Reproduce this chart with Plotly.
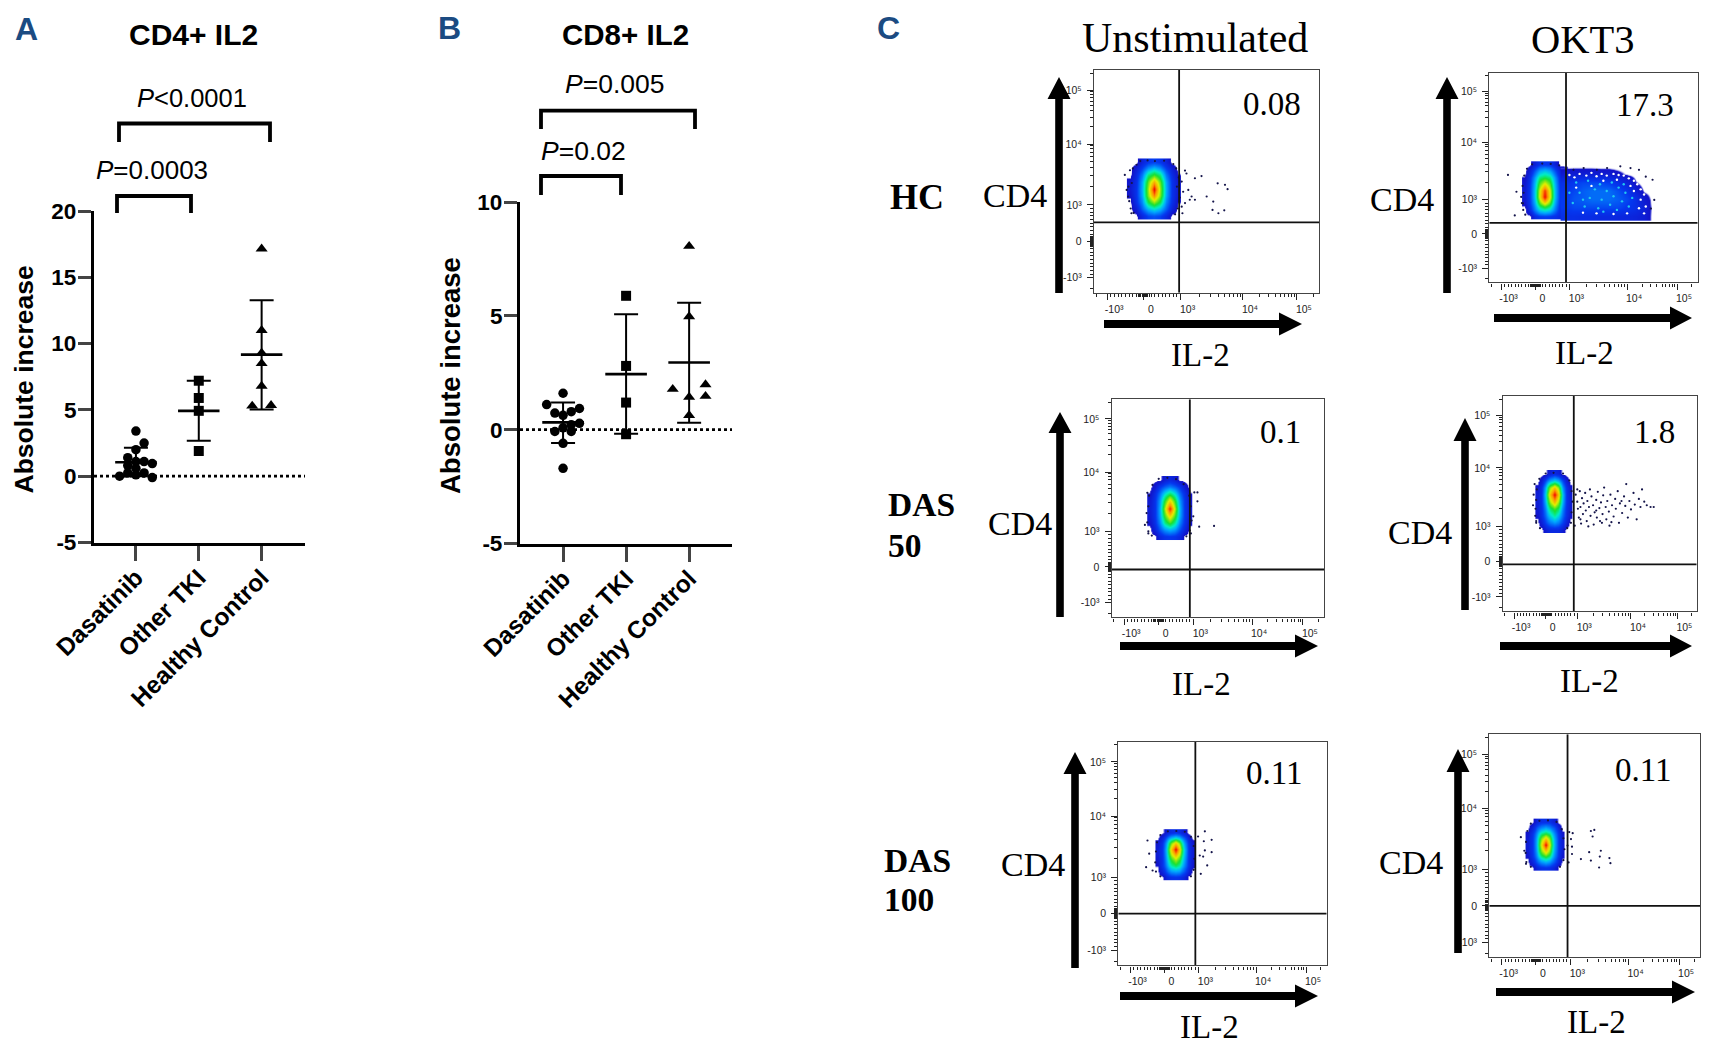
import plotly.graph_objects as go

W, H = 1715, 1048
CATEGORIES = ["Dasatinib", "Other TKI", "Healthy Control"]

# ---- Panel A: CD4+ IL2 (category index + jitter, value)
A_DAS_X = [0, 0.13, 0, -0.13, 0, 0.13, 0.26, -0.13, 0, -0.26, -0.13, 0, 0.13, 0.26]
A_DAS_Y = [3.4, 2.5, 2.0, 1.4, 1.1, 1.1, 0.95, 0.8, 0.6, 0, 0.25, 0.1, 0.25, -0.1]
A_TKI_X = [1, 1, 1, 1]
A_TKI_Y = [7.2, 5.9, 4.93, 1.9]
A_HC_X = [2, 2, 2, 2, 2, 1.85, 2.15]
A_HC_Y = [17.15, 11, 9.3, 8.5, 6.8, 5.3, 5.35]
A_MEAN = [1.05, 4.93, 9.17]
A_UP = [2.15, 7.2, 13.26]
A_LOW = [0.0, 2.67, 5.03]
A_TICKS = [-5, 0, 5, 10, 15, 20]

# ---- Panel B: CD8+ IL2
B_DAS_X = [0, -0.26, 0.26, 0.13, -0.13, 0, 0.26, 0.13, -0.13, 0, 0.13, 0, 0]
B_DAS_Y = [1.6, 1.1, 0.93, 0.79, 0.73, 0.63, 0.28, 0.22, -0.08, 0.08, -0.08, -0.6, -1.7]
B_TKI_X = [1, 1, 1, 1]
B_TKI_Y = [5.88, 2.8, 1.19, -0.2]
B_HC_X = [2, 2, 1.74, 2.26, 2.26, 2, 2]
B_HC_Y = [8.06, 4.97, 1.78, 1.98, 1.47, 1.43, 0.63]
B_MEAN = [0.32, 2.44, 2.95]
B_UP = [1.19, 5.07, 5.58]
B_LOW = [-0.59, -0.18, 0.3]
B_TICKS = [-5, 0, 5, 10]

# ---- Panel C: flow plots.  Axis unit: biexponential position, 0 -> 0, 1 -> 10^3
FLOW_XTICKS = [-1, 0, 1, 2.7, 4.17]
FLOW_YTICKS = [-1, 0, 1, 2.66, 4.15]
FLOW_TICKTEXT = ["-10³", "0", "10³", "10⁴", "10⁵"]
FLOW_MINOR = [-1.3, -0.9, -0.8, -0.7, -0.6, -0.5, -0.4, -0.3, -0.2, -0.14, -0.11, -0.08, -0.05, -0.02, 0.02, 0.05, 0.08, 0.11, 0.14,
              0.2, 0.3, 0.4, 0.5, 0.6, 0.7, 0.8, 0.9, 1.51, 1.81, 2.02, 2.19, 2.32, 2.44, 2.54, 2.62,
              3.14, 3.40, 3.58, 3.73, 3.84, 3.94, 4.03, 4.10, 4.61]

PCT = ["0.08", "17.3", "0.1", "1.8", "0.11", "0.11"]
GATE_X = [0.96, 0.90, 0.90, 0.89, 0.91, 0.92]
GATE_Y = [0.52, 0.32, -0.07, -0.08, 0.0, 0.0]

HM1 = [[0, 0, .9, 1.6, 1.8, 1.6, .9, 0, 0],
       [0, .6, 2, 3.2, 3.8, 3.2, 2, .8, 0],
       [0, 1.2, 2.6, 5, 6.2, 5, 2.6, 1.2, .2],
       [.3, 1.3, 3, 6, 8.5, 6, 3, 1.3, .4],
       [.5, 1.3, 3.1, 6.2, 10, 6.2, 3.1, 1.3, .5],
       [.4, 1.2, 3, 5.8, 8, 5.8, 3, 1.3, .4],
       [0, 1, 2.4, 4.6, 5.5, 4.6, 2.4, 1.1, .2],
       [0, .6, 1.6, 2.8, 3.4, 2.8, 1.6, .7, 0],
       [0, 0, .8, 1.4, 1.6, 1.4, .8, 0, 0]]
HM2 = [[0, 0, 1, 1.4, 1.5, 1.4, 1.2, .9, .8],
       [0, 1, 2.4, 3.6, 4, 3.6, 2.4, 1.2, 1],
       [.3, 1.4, 3, 5.6, 7, 5.6, 3, 1.4, 1.2],
       [.5, 1.5, 3.4, 7, 10, 7, 3.4, 1.5, 1.3],
       [.5, 1.5, 3.4, 6.8, 9.4, 6.8, 3.4, 1.5, 1.3],
       [.4, 1.4, 3.2, 5.8, 7, 5.8, 3.2, 1.4, 1.2],
       [.2, 1.2, 2.8, 4.6, 5, 4.6, 2.8, 1.2, 1.1],
       [0, .7, 1.9, 3, 3.4, 3, 1.9, .8, .5],
       [0, 0, .7, 1.3, 1.4, 1.3, .7, 0, 0]]
HM2_TAIL = [[1.2, 1.2, 1.1, 1.1, 1.0, 1.0, .9, .9, .8, .6, 0],
            [1.5, 1.7, 1.7, 1.7, 1.7, 1.7, 1.7, 1.4, 1.2, .7, 0],
            [1.5, 1.9, 2.0, 2.2, 2.2, 2.2, 2.0, 1.7, 1.2, .5, 0],
            [1.4, 1.7, 2.0, 2.2, 2.2, 2.2, 1.8, 1.4, .7, .1, 0],
            [1.2, 1.5, 1.7, 1.7, 1.7, 1.5, 1.2, .8, .2, 0, 0],
            [.5, .6, .6, .6, .5, .5, .3, .1, 0, 0, 0],
            [0, 0, 0, 0, 0, 0, 0, 0, 0, 0, 0]]
HM3 = [[0, 0, .9, 1.3, 1.4, 1.3, .9, 0, 0],
       [0, .8, 1.9, 2.8, 3.2, 2.8, 1.8, .8, 0],
       [.3, 1.2, 2.6, 4.6, 5.6, 4.4, 2.5, 1.2, .3],
       [.5, 1.3, 3, 5.6, 7.4, 5.6, 3, 1.3, .5],
       [.6, 1.3, 3.1, 6.4, 9.8, 6.4, 3.1, 1.3, .6],
       [.5, 1.3, 2.9, 5.4, 7.4, 5.4, 2.8, 1.3, .5],
       [.2, 1.1, 2.3, 3.8, 4.8, 3.8, 2.2, 1.1, .2],
       [0, .5, 1.4, 2, 2.4, 2, 1.4, .5, 0],
       [0, 0, 0, .6, .9, .6, 0, 0, 0]]
HM4 = [[0, 0, .6, 1, 1, 1, .6, 0, 0],
       [0, .7, 1.6, 2.4, 2.8, 2.4, 1.6, .7, 0],
       [.3, 1.1, 2.2, 3.6, 4.4, 3.6, 2.2, 1.1, .3],
       [.5, 1.2, 2.6, 4.8, 5.6, 4.8, 2.6, 1.2, .5],
       [.6, 1.3, 3.2, 6.4, 8, 6.2, 3.2, 1.3, .6],
       [.6, 1.3, 3.6, 7.6, 10, 7.4, 3.4, 1.3, .5],
       [.3, 1.2, 3.1, 6.2, 7.6, 6, 2.8, 1.2, .3],
       [0, .5, 1.7, 3, 3.6, 3, 1.7, .5, 0],
       [0, 0, 0, .7, 1, .7, 0, 0, 0]]
HM5 = [[0, 0, .8, 1.2, 1.3, 1.2, .8, 0, 0],
       [0, .8, 1.9, 2.8, 3, 2.8, 1.9, .8, 0],
       [.2, 1.2, 2.6, 4.2, 4.8, 4.2, 2.6, 1.2, .3],
       [.4, 1.2, 3, 5.2, 6.2, 5.2, 3, 1.2, .4],
       [.6, 1.3, 3.3, 6.4, 8, 6.4, 3.3, 1.3, .5],
       [.6, 1.3, 3.5, 7.4, 10, 7.4, 3.5, 1.3, .5],
       [.4, 1.2, 3.1, 6, 7.6, 6, 3, 1.2, .4],
       [0, .7, 2, 3.2, 3.8, 3.2, 2, .7, 0],
       [0, 0, .6, 1.1, 1.2, 1.1, .6, 0, 0]]
HM6 = [[0, 0, .8, 1.2, 1.3, 1.2, .8, 0, 0],
       [0, .8, 1.9, 2.8, 3.2, 2.8, 1.9, .8, 0],
       [.3, 1.2, 2.6, 4.6, 5.4, 4.6, 2.6, 1.2, .3],
       [.5, 1.3, 3, 6, 7.6, 6, 3, 1.3, .5],
       [.6, 1.3, 3.2, 6.8, 10, 6.8, 3.2, 1.3, .6],
       [.5, 1.3, 3.1, 6, 7.6, 6, 3.1, 1.3, .5],
       [.3, 1.2, 2.6, 4.4, 5, 4.4, 2.6, 1.2, .3],
       [0, .7, 1.9, 2.6, 3, 2.6, 1.9, .7, 0],
       [0, 0, .7, 1.2, 1.2, 1.2, .7, 0, 0]]

# (x0, dx, y0, dy) of each density grid, in biex units
GRID1 = (-.38, .165, .70, .185)
GRID2 = (-.32, .149, .51, .189)
GRID2_TAIL = (.87, .26, .51, .25)
GRID3 = (-.26, .144, .85, .20)
GRID4 = (-.26, .131, .90, .20)
GRID5 = (-.20, .13, 1.0, .154)
GRID6 = (-.24, .1275, 1.05, .1575)

DOTS1 = [(1.12, 1.94), (1.16, 1.86), (1.03, 1.64), (1.07, 1.36), (1.21, 1.41), (1.3, 1.23), (1.39, 1.14), (1.25, 1.14),
         (1.12, 1.05), (1.39, 1.73), (1.57, 1.79), (2.01, 1.59), (2.21, 1.55), (2.28, 1.43), (1.89, 1.09), (1.71, 1.23),
         (1.87, .86), (2.03, .77), (2.19, .85), (1.03, .95), (1.05, .77), (-.47, 1.41), (-.43, 1.23), (-.52, 1.82),
         (-.34, .77), (-.38, 1.95), (-.36, .9), (-.4, 1.1), (-.33, 1.6), (-.42, 1.5), (-.3, 2.0), (-.2, 2.1), (-.28, .78),
         (.92, .9), (.98, 1.2), (.9, 1.5), (.95, 1.75), (.88, 2.0), (.8, 2.12), (.85, .74), (-.1, 2.2), (.1, 2.22), (.3, 2.2), (.55, 2.21)]
DOTS2 = [(-.81, 1.72), (-.61, .54), (-.56, 1.23), (-.37, .89), (-.42, 1.08), (1.12, 1.87), (1.42, 1.92), (1.81, 1.87),
         (2.11, 1.92), (2.5, 1.97), (3.05, 1.87), (3.25, 1.67), (3.45, 1.58), (3.5, .99), (3.4, .74), (2.8, 1.92),
         (-.36, .7), (-.4, .9), (-.38, 1.4), (-.33, 1.7), (-.25, 1.9), (-.1, 2.03), (.2, 2.05), (.45, 2.04), (.7, 2.0), (-.3, .56), (-.35, 1.2)]
DOTS3 = [(1.12, 2.09), (1.03, 2.09), (1.12, 1.84), (1.17, 1.13), (1.6, 1.15), (1.0, 1.42), (.93, .94), (-.35, 1.51),
         (-.4, 1.18), (-.3, .94), (-.33, 2.08), (-.3, 1.0), (-.33, 1.25), (-.3, 1.7), (-.28, 2.0), (-.18, 2.3), (0, 2.47),
         (.25, 2.5), (.5, 2.46), (.72, 2.32), (.88, 2.0), (.93, 1.7), (.95, 1.3), (.9, 1.02), (.8, .86), (-.2, .88)]
DOTS4 = [(.95, 1.9), (1.0, 1.7), (1.02, 1.5), (1.05, 1.25), (1.08, 2.0), (1.1, 1.55), (1.12, 1.08), (1.15, 1.8),
         (1.18, 1.35), (1.2, 1.65), (1.25, 1.95), (1.27, 1.45), (1.3, 1.15), (1.32, 1.72), (1.37, 1.55), (1.4, 2.05),
         (1.42, 1.3), (1.45, 1.85), (1.5, 1.6), (1.52, 1.05), (1.55, 1.4), (1.6, 1.75), (1.62, 1.25), (1.65, 1.98),
         (1.7, 1.52), (1.72, 1.15), (1.75, 1.68), (1.8, 1.35), (1.82, 1.88), (1.85, 2.1), (1.9, 1.55), (1.92, 1.2),
         (1.95, 1.72), (2, 1.42), (2.02, 1.02), (2.05, 1.9), (2.1, 1.6), (2.15, 1.28), (2.2, 1.78), (2.22, 1.5),
         (2.28, 2.0), (2.32, 1.1), (2.35, 1.65), (2.42, 1.38), (2.48, 1.85), (2.52, 1.58), (2.55, 2.2), (2.6, 1.25),
         (2.65, 1.72), (2.7, 1.48), (2.78, 1.95), (2.82, 1.62), (2.88, 1.2), (2.95, 1.78), (3, 1.55), (3.05, 2.05),
         (3.12, 1.7), (3.2, 1.6), (3.32, 1.55), (3.42, 1.55), (.92, 1.02), (1.0, 2.05), (1.1, 1.2), (1.35, 1.0),
         (1.6, 1.45), (1.78, 1.1), (2.08, 1.12), (2.4, 1.72), (-.4, 1.6), (-.38, 1.9), (-.35, 2.2), (-.33, 1.3), (-.3, 1.1),
         (-.3, 1.15), (-.32, 1.5), (-.3, 1.75), (-.28, 2.05), (-.2, 2.35), (0, 2.5), (.25, 2.52), (.55, 2.5), (.75, 2.3),
         (.82, 2.0), (.85, 1.7), (.82, 1.4), (.8, 1.1), (.68, .95), (-.18, .95)]
DOTS5 = [(1.19, 2.25), (.99, 2.11), (1.39, 2.02), (1.16, 1.98), (1.39, 1.68), (1.19, 1.73), (1.04, 1.59), (1.14, 1.56),
         (1.26, 1.32), (1.07, 1.09), (-.5, 2), (-.54, 1.27), (-.45, 1.64), (-.35, 1.18), (-.25, 1.15), (-.27, 1.4), (-.25, 1.7),
         (-.22, 1.95), (-.12, 2.15), (.1, 2.25), (.35, 2.26), (.6, 2.24), (.78, 2.1), (.86, 1.85), (.88, 1.5), (.86, 1.2),
         (.78, 1.02), (-.12, 1.02)]
DOTS6 = [(1.7, 2.08), (1.6, 2.05), (1.65, 1.9), (.97, 2.02), (1.07, 1.99), (1.02, 1.83), (.92, 1.65), (1.05, 1.62),
         (1.05, 1.42), (.95, 1.19), (1.31, 1.28), (1.55, 1.47), (1.89, 1.51), (1.86, 1.35), (2.14, 1.31), (2.17, 1.17),
         (1.84, 1.05), (1.6, 1.24), (-.44, 1.88), (-.34, 1.51), (-.29, 1.15), (-.28, 1.2), (-.3, 1.45), (-.29, 1.75), (-.25, 2.05),
         (-.15, 2.25), (.1, 2.33), (.35, 2.34), (.6, 2.3), (.75, 2.1), (.8, 1.85), (.83, 1.55), (.8, 1.25), (.7, 1.07), (-.15, 1.07)]
# flecks inside the OKT3 tail of the HC plot
TAIL_CYAN = [(1.1, .9), (1.3, 1.2), (1.45, .8), (1.6, 1.05), (1.75, 1.3), (1.85, .75), (1.95, 1.0), (2.1, 1.25), (2.2, .85),
             (2.3, 1.1), (2.45, 1.35), (2.55, .95), (2.65, 1.2), (2.75, .8), (2.85, 1.05), (1.2, 1.5), (1.55, 1.55), (1.9, 1.45),
             (2.25, 1.5), (2.6, 1.45), (1.0, 1.2), (1.4, 1.0), (2.0, .65), (2.4, .7)]
TAIL_WHITE = [(1.0, 1.72), (1.15, 1.65), (1.3, 1.75), (1.5, 1.7), (1.65, 1.78), (1.8, 1.68), (1.95, 1.75), (2.1, 1.7),
              (2.3, 1.75), (2.45, 1.72), (2.6, 1.7), (2.75, 1.62), (2.9, 1.55), (3.0, 1.45), (3.1, 1.3), (3.2, 1.15), (3.1, 1.0),
              (3.25, .8), (3.2, .6), (1.4, .62), (1.8, .6), (2.3, .58), (2.7, .6), (1.2, 1.35), (1.65, 1.4), (2.0, 1.55), (2.4, 1.58),
              (2.8, 1.4), (2.9, 1.25), (3.05, .75)]

# ---------------- layout geometry (pixels in the 1715x1048 page) ----------------
SANS = "Liberation Sans"
SERIF = "Liberation Serif"
BLUE = "#1B4B82"
RAINBOW = [[0, "rgba(255,255,255,0)"], [.012, "rgba(255,255,255,0)"], [.02, "#1212c8"], [.15, "#0438f0"],
           [.30, "#00a8ff"], [.40, "#00eec8"], [.52, "#18e030"], [.68, "#e4f000"], [.84, "#ff9400"], [1, "#f00000"]]


def fx(p):
    return p / W


def fy(p):
    return 1 - p / H


fig = go.Figure()
annotations = []
shapes = []


def text(x, y, s, size, family=SANS, color="black", anchor="center", angle=0):
    annotations.append(dict(x=fx(x), y=fy(y), xref="paper", yref="paper", text=s, showarrow=False, textangle=angle,
                            xanchor=anchor, yanchor="middle", font=dict(family=family, size=size, color=color)))


def swarm(n, series, mean, up, low):
    symbols = ["circle", "square", "triangle-up"]
    sizes = [9.5, 10, 10.5]
    ax = dict(xaxis=f"x{n}" if n > 1 else "x", yaxis=f"y{n}" if n > 1 else "y")
    for (xs, ys), sym, sz in zip(series, symbols, sizes):
        fig.add_trace(go.Scatter(x=xs, y=ys, mode="markers", showlegend=False, cliponaxis=False,
                                 marker=dict(symbol=sym, size=sz, color="black"), **ax))
    fig.add_trace(go.Scatter(
        x=[0, 1, 2], y=mean, mode="markers", showlegend=False, cliponaxis=False, marker=dict(size=1, color="black"),
        error_x=dict(type="constant", value=0.33, thickness=2.6, width=0, color="black"),
        error_y=dict(type="data", symmetric=False, array=[u - m for u, m in zip(up, mean)],
                     arrayminus=[m - l for m, l in zip(mean, low)], thickness=2, width=12, color="black"), **ax))


def bracket(x0, x1, top, bottom):
    shapes.append(dict(type="path", xref="paper", yref="paper", line=dict(color="black", width=3.8),
                       path=f"M {fx(x0)} {fy(bottom)} L {fx(x0)} {fy(top)} L {fx(x1)} {fy(top)} L {fx(x1)} {fy(bottom)}"))


swarm(1, [(A_DAS_X, A_DAS_Y), (A_TKI_X, A_TKI_Y), (A_HC_X, A_HC_Y)], A_MEAN, A_UP, A_LOW)
swarm(2, [(B_DAS_X, B_DAS_Y), (B_TKI_X, B_TKI_Y), (B_HC_X, B_HC_Y)], B_MEAN, B_UP, B_LOW)
fig.add_trace(go.Scatter(x=[-0.667, 2.69], y=[0, 0], mode="lines", showlegend=False,
                         line=dict(color="black", width=2.7, dash="dot"), xaxis="x", yaxis="y"))
fig.add_trace(go.Scatter(x=[-0.683, 2.68], y=[0, 0], mode="lines", showlegend=False, cliponaxis=False,
                         line=dict(color="black", width=2.7, dash="dot"), xaxis="x2", yaxis="y2"))
bracket(117, 191, 196, 213)
bracket(119, 270, 123.5, 142)
bracket(541, 621, 176, 195)
bracket(541, 695, 110.6, 129)

layout = dict(
    width=W, height=H, margin=dict(l=0, r=0, t=0, b=0, autoexpand=False), paper_bgcolor="white", plot_bgcolor="white",
    showlegend=False,
)


def swarm_axes(n, px0, px1, py0, py1, xr, yr, ticks):
    sx = "xaxis" if n == 1 else f"xaxis{n}"
    sy = "yaxis" if n == 1 else f"yaxis{n}"
    layout[sx] = dict(domain=[fx(px0), fx(px1)], range=xr, tickvals=[0, 1, 2], ticktext=CATEGORIES, tickangle=-45,
                      ticks="outside", ticklen=15, tickwidth=3, showline=True, linewidth=3.2, linecolor="black",
                      showgrid=False, zeroline=False, anchor=f"y{n}" if n > 1 else "y", automargin=False,
                      ticklabelstandoff=-7,
                      tickfont=dict(family=SANS, size=24.5, color="black", weight="bold"))
    layout[sy] = dict(domain=[fy(py1), fy(py0)], range=yr, tickvals=ticks, ticktext=[str(t) for t in ticks],
                      ticks="outside", ticklen=13, tickwidth=3,
                      showline=True, linewidth=3.2, linecolor="black", showgrid=False, zeroline=False,
                      anchor=f"x{n}" if n > 1 else "x", automargin=False, ticklabelstandoff=-3,
                      tickfont=dict(family=SANS, size=22.5, color="black", weight="bold"))


swarm_axes(1, 94, 305, 211, 542.5, [-0.667, 2.69], [-5, 20], A_TICKS)
swarm_axes(2, 520, 732, 202, 543.5, [-0.683, 2.68], [-5, 10], B_TICKS)

text(23, 379.5, "<b>Absolute increase</b>", 26.5, angle=-90)
text(450, 375, "<b>Absolute increase</b>", 27.5, angle=-90)
text(193, 35, "<b>CD4+ IL2</b>", 30)
text(625, 34, "<b>CD8+ IL2</b>", 29.5)
text(152, 170, "<i>P</i>=0.0003", 26)
text(192, 98, "<i>P</i>&lt;0.0001", 25.5)
text(583, 151, "<i>P</i>=0.02", 26.5)
text(614, 84, "<i>P</i>=0.005", 26.5)
text(27, 29, "<b>A</b>", 32, color=BLUE)
text(450, 28, "<b>B</b>", 32, color=BLUE)
text(888, 28, "<b>C</b>", 32, color=BLUE)

# flow plots: box px (x0, x1, y0, y1)
BOXES = [(1094, 1319.3, 70, 292.7), (1489.3, 1697.7, 72.7, 282.3), (1111.7, 1324, 399.3, 617.3),
         (1502.7, 1696.7, 396, 611.3), (1118.3, 1326.7, 741.7, 965.3), (1489.3, 1700, 734.3, 957.3)]
GRIDS = [[(HM1, GRID1)], [(HM2, GRID2), (HM2_TAIL, GRID2_TAIL)], [(HM3, GRID3)], [(HM4, GRID4)], [(HM5, GRID5)], [(HM6, GRID6)]]
DOTS = [DOTS1, DOTS2, DOTS3, DOTS4, DOTS5, DOTS6]
XR, YR = [-1.36, 4.78], [-1.41, 4.7]
PCT_POS = [(1272, 104), (1645, 105), (1280, 432), (1654, 432), (1274, 773), (1643, 770)]
CD4_POS = [(1015, 195), (1402, 200), (1020, 523), (1420, 532), (1033, 864), (1411, 862)]
IL2_POS = [(1200, 355), (1584, 353), (1201, 684), (1589, 681), (1209, 1027), (1596, 1022)]
UP_ARROWS = [(1059, 77, 99, 293), (1447, 77, 99, 293), (1060, 412, 433, 617), (1465, 418, 441, 610), (1075, 752, 774, 968), (1458, 749, 772, 953)]
RIGHT_ARROWS = [(324, 1104, 1279, 1302), (318, 1494, 1670, 1692), (646, 1120, 1295, 1318), (646, 1500, 1670, 1692), (996, 1120, 1295, 1318), (992, 1496, 1672, 1695)]

for i in range(6):
    n = i + 3
    bx0, bx1, by0, by1 = BOXES[i]
    xa, ya = f"x{n}", f"y{n}"
    for z, (x0, dx, y0, dy) in GRIDS[i]:
        fig.add_trace(go.Heatmap(z=z, x0=x0, dx=dx, y0=y0, dy=dy, zmin=0, zmax=10, zsmooth="best", colorscale=RAINBOW,
                                 showscale=False, hoverinfo="skip", xaxis=xa, yaxis=ya))
    if i == 1:
        fig.add_trace(go.Scatter(x=[p[0] for p in TAIL_CYAN], y=[p[1] for p in TAIL_CYAN], mode="markers", showlegend=False,
                                 marker=dict(size=2.4, color="#20c8f0"), xaxis=xa, yaxis=ya))
        fig.add_trace(go.Scatter(x=[p[0] for p in TAIL_WHITE], y=[p[1] for p in TAIL_WHITE], mode="markers", showlegend=False,
                                 marker=dict(size=2.4, color="white"), xaxis=xa, yaxis=ya))
    fig.add_trace(go.Scatter(x=[p[0] for p in DOTS[i]], y=[p[1] for p in DOTS[i]], mode="markers", showlegend=False,
                             marker=dict(size=2.2, color="#14144a"), xaxis=xa, yaxis=ya))
    fig.add_trace(go.Scatter(x=[GATE_X[i], GATE_X[i]], y=YR, mode="lines", showlegend=False,
                             line=dict(color="#111", width=1.8), xaxis=xa, yaxis=ya))
    fig.add_trace(go.Scatter(x=XR, y=[GATE_Y[i], GATE_Y[i]], mode="lines", showlegend=False,
                             line=dict(color="#111", width=1.8), xaxis=xa, yaxis=ya))
    common = dict(showline=True, mirror=True, linewidth=1.4, linecolor="#444", showgrid=False, zeroline=False,
                  ticks="outside", ticklen=6, tickwidth=1.4, tickcolor="#222", ticktext=FLOW_TICKTEXT, automargin=False,
                  tickfont=dict(family=SANS, size=10.5, color="#222"),
                  minor=dict(tickvals=FLOW_MINOR, ticklen=3, tickwidth=1, tickcolor="#222", ticks="outside"))
    layout[f"xaxis{n}"] = dict(domain=[fx(bx0), fx(bx1)], range=XR, tickvals=FLOW_XTICKS, anchor=ya, ticklabelshift=7, **common)
    layout[f"yaxis{n}"] = dict(domain=[fy(by1), fy(by0)], range=YR, tickvals=FLOW_YTICKS, anchor=xa, ticklabelstandoff=3, **common)

    text(*PCT_POS[i], PCT[i], 33, SERIF)
    text(*CD4_POS[i], "CD4", 34, SERIF)
    text(*IL2_POS[i], "IL-2", 33, SERIF)

    ax_, top, base, bot = UP_ARROWS[i]
    shapes.append(dict(type="path", xref="paper", yref="paper", fillcolor="black", line=dict(width=0),
                       path=f"M {fx(ax_-3.8)} {fy(bot)} L {fx(ax_-3.8)} {fy(base)} L {fx(ax_-11.5)} {fy(base)} L {fx(ax_)} {fy(top)} "
                            f"L {fx(ax_+11.5)} {fy(base)} L {fx(ax_+3.8)} {fy(base)} L {fx(ax_+3.8)} {fy(bot)} Z"))
    ay_, left, base, tip = RIGHT_ARROWS[i]
    shapes.append(dict(type="path", xref="paper", yref="paper", fillcolor="black", line=dict(width=0),
                       path=f"M {fx(left)} {fy(ay_-4)} L {fx(base)} {fy(ay_-4)} L {fx(base)} {fy(ay_-11.5)} L {fx(tip)} {fy(ay_)} "
                            f"L {fx(base)} {fy(ay_+11.5)} L {fx(base)} {fy(ay_+4)} L {fx(left)} {fy(ay_+4)} Z"))

text(1195, 38, "Unstimulated", 42, SERIF)
text(1583, 40, "OKT3", 40.5, SERIF)
text(917, 197, "<b>HC</b>", 36, SERIF)
text(886, 505, "<b>DAS</b>", 33.5, SERIF, anchor="left")
text(886, 545, "<b>50</b>", 33.5, SERIF, anchor="left")
text(882, 860, "<b>DAS</b>", 33.5, SERIF, anchor="left")
text(882, 899, "<b>100</b>", 33.5, SERIF, anchor="left")

layout["annotations"] = annotations
layout["shapes"] = shapes
fig.update_layout(**layout)
fig.write_html("out.html", config={"displayModeBar": False},
               post_script="document.body.style.margin='0';document.body.style.overflow='hidden';")
